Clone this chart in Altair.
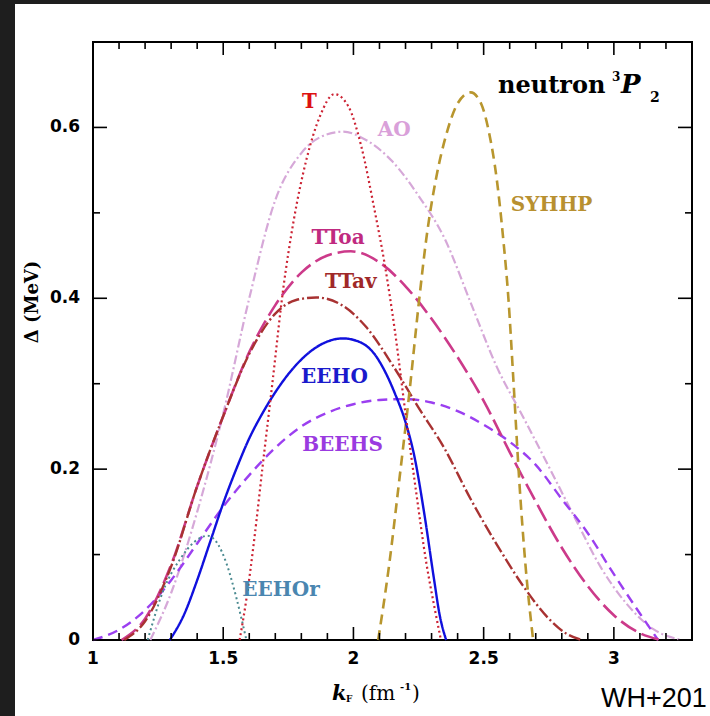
import altair as alt
import pandas as pd

# ---------------- data ----------------
T_x = [1.563, 1.59, 1.62, 1.65, 1.69, 1.73, 1.77, 1.82, 1.87, 1.927, 1.98, 2.03, 2.08, 2.12, 2.16, 2.20, 2.24, 2.28, 2.31, 2.336]
T_y = [0.0, 0.05, 0.12, 0.2, 0.304, 0.41, 0.49, 0.563, 0.612, 0.639, 0.625, 0.578, 0.505, 0.44, 0.36, 0.265, 0.175, 0.09, 0.04, 0.0]

AO_x = [1.22, 1.30, 1.40, 1.50, 1.60, 1.70, 1.80, 1.90, 1.96, 2.05, 2.15, 2.25, 2.35, 2.45, 2.55, 2.65, 2.75, 2.85, 2.95, 3.05, 3.15, 3.26]
AO_y = [0.0, 0.055, 0.15, 0.265, 0.40, 0.515, 0.57, 0.592, 0.595, 0.585, 0.56, 0.52, 0.47, 0.395, 0.32, 0.262, 0.203, 0.143, 0.085, 0.042, 0.013, 0.0]

SYHHP_x = [2.095, 2.138, 2.176, 2.215, 2.253, 2.28, 2.317, 2.355, 2.40, 2.45, 2.49, 2.52, 2.55, 2.575, 2.595, 2.615, 2.636, 2.66, 2.69]
SYHHP_y = [0.0, 0.09, 0.187, 0.29, 0.40, 0.47, 0.54, 0.59, 0.628, 0.641, 0.628, 0.595, 0.54, 0.47, 0.40, 0.30, 0.19, 0.09, 0.0]

TToa_x = [1.11, 1.20, 1.30, 1.40, 1.50, 1.60, 1.70, 1.80, 1.90, 1.99, 2.10, 2.20, 2.30, 2.40, 2.50, 2.60, 2.70, 2.80, 2.90, 3.00, 3.10, 3.18]
TToa_y = [0.0, 0.025, 0.088, 0.18, 0.262, 0.337, 0.392, 0.43, 0.45, 0.455, 0.442, 0.414, 0.376, 0.331, 0.28, 0.22, 0.162, 0.108, 0.063, 0.029, 0.008, 0.0]

TTav_x = [1.12, 1.20, 1.30, 1.40, 1.50, 1.60, 1.70, 1.78, 1.857, 1.95, 2.05, 2.15, 2.25, 2.35, 2.45, 2.55, 2.65, 2.75, 2.82, 2.877]
TTav_y = [0.0, 0.022, 0.086, 0.18, 0.262, 0.335, 0.382, 0.398, 0.401, 0.393, 0.366, 0.322, 0.272, 0.224, 0.165, 0.112, 0.064, 0.025, 0.007, 0.0]

EEHO_x = [1.295, 1.35, 1.40, 1.45, 1.50, 1.55, 1.60, 1.65, 1.70, 1.78, 1.87, 1.96, 2.03, 2.08, 2.12, 2.16, 2.20, 2.234, 2.272, 2.31, 2.33, 2.356]
EEHO_y = [0.0, 0.03, 0.07, 0.115, 0.16, 0.2, 0.236, 0.265, 0.29, 0.322, 0.345, 0.353, 0.348, 0.335, 0.315, 0.288, 0.255, 0.215, 0.148, 0.07, 0.031, 0.0]

BEEHS_x = [1.0, 1.1, 1.2, 1.3, 1.4, 1.5, 1.6, 1.7, 1.8, 1.9, 2.0, 2.1, 2.2, 2.3, 2.4, 2.5, 2.6, 2.7, 2.8, 2.9, 3.0, 3.1, 3.17]
BEEHS_y = [0.0, 0.012, 0.035, 0.07, 0.113, 0.156, 0.193, 0.225, 0.25, 0.266, 0.276, 0.281, 0.282, 0.278, 0.268, 0.252, 0.232, 0.205, 0.165, 0.125, 0.077, 0.031, 0.0]

EEHOr_x = [1.21, 1.27, 1.333, 1.39, 1.44, 1.48, 1.512, 1.55, 1.589]
EEHOr_y = [0.0, 0.058, 0.094, 0.115, 0.122, 0.112, 0.09, 0.05, 0.0]

label_names = ["T", "AO", "SYHHP", "TToa", "TTav", "EEHO", "BEEHS", "EEHOr"]
label_x = [1.831, 2.157, 2.761, 1.941, 1.990, 1.927, 1.958, 1.722]
label_y = [0.630, 0.597, 0.509, 0.470, 0.419, 0.308, 0.228, 0.058]

x_major = [1, 1.5, 2, 2.5, 3]
x_tick_labels = ["1", "1.5", "2", "2.5", "3"]
x_minor = [1.1, 1.2, 1.3, 1.4, 1.6, 1.7, 1.8, 1.9, 2.1, 2.2, 2.3, 2.4, 2.6, 2.7, 2.8, 2.9, 3.1, 3.2]
y_major = [0, 0.2, 0.4, 0.6]
y_tick_labels = ["0", "0.2", "0.4", "0.6"]
y_minor = [0.1, 0.3, 0.5]

# ---------------- styling ----------------
W, H = 599, 598
xs = alt.Scale(domain=[1, 3.3], nice=False, zero=False)
ys = alt.Scale(domain=[0, 0.7], nice=False, zero=False)

styles = {
    "T": ("#cc2233", [2, 3], 2.2),
    "AO": ("#d6a8d8", [9, 3, 2, 3], 2.2),
    "SYHHP": ("#b8962e", [10, 6], 2.6),
    "TToa": ("#cc3a8a", [18, 6], 2.6),
    "TTav": ("#a83232", [12, 3, 2, 3], 2.4),
    "EEHO": ("#1010dd", [1, 0], 2.4),
    "BEEHS": ("#9b3ff0", [10, 6], 2.4),
    "EEHOr": ("#4a8a90", [2, 3], 2.0),
}
label_colors = {
    "T": "#dd1111", "AO": "#d9a0d9", "SYHHP": "#b89030", "TToa": "#c02a80",
    "TTav": "#a02828", "EEHO": "#1a1acc", "BEEHS": "#9a3ae0", "EEHOr": "#4a86b0",
}
series = {
    "T": (T_x, T_y), "AO": (AO_x, AO_y), "SYHHP": (SYHHP_x, SYHHP_y),
    "TToa": (TToa_x, TToa_y), "TTav": (TTav_x, TTav_y), "EEHO": (EEHO_x, EEHO_y),
    "BEEHS": (BEEHS_x, BEEHS_y), "EEHOr": (EEHOr_x, EEHOr_y),
}

one = pd.DataFrame({"a": [0]})
layers = []

# dark bands of the screenshot edge
layers.append(alt.Chart(one).mark_rect(color="#1e1e1e").encode(
    x=alt.value(-93), x2=alt.value(-78), y=alt.value(-42), y2=alt.value(H + 76)))
layers.append(alt.Chart(one).mark_rect(color="#1e1e1e").encode(
    x=alt.value(-93), x2=alt.value(W + 18), y=alt.value(-42), y2=alt.value(-38)))

# curves
for name in ["AO", "BEEHS", "TToa", "TTav", "SYHHP", "EEHO", "EEHOr", "T"]:
    xv, yv = series[name]
    col, dash, sw = styles[name]
    df = pd.DataFrame({"x": xv, "y": yv})
    layers.append(alt.Chart(df).mark_line(
        color=col, strokeDash=dash, strokeWidth=sw, interpolate="monotone").encode(
        x=alt.X("x:Q", scale=xs, axis=None), y=alt.Y("y:Q", scale=ys, axis=None)))

# curve labels
lab_df = pd.DataFrame({"name": label_names, "x": label_x, "y": label_y,
                       "c": [label_colors[n] for n in label_names]})
layers.append(alt.Chart(lab_df).mark_text(
    font="DejaVu Serif", fontWeight="bold", fontSize=20, align="center", baseline="middle").encode(
    x=alt.X("x:Q", scale=xs, axis=None), y=alt.Y("y:Q", scale=ys, axis=None),
    text="name:N", color=alt.Color("c:N", scale=None)))

# inward ticks on all four sides
def xticks(vals, length):
    d = pd.DataFrame({"x": vals})
    bot = alt.Chart(d).mark_rule(color="black", strokeWidth=1.6).encode(
        x=alt.X("x:Q", scale=xs, axis=None), y=alt.value(H), y2=alt.value(H - length))
    top = alt.Chart(d).mark_rule(color="black", strokeWidth=1.6).encode(
        x=alt.X("x:Q", scale=xs, axis=None), y=alt.value(0), y2=alt.value(length))
    return [bot, top]

def yticks(vals, length):
    d = pd.DataFrame({"y": vals})
    left = alt.Chart(d).mark_rule(color="black", strokeWidth=1.6).encode(
        y=alt.Y("y:Q", scale=ys, axis=None), x=alt.value(0), x2=alt.value(length))
    right = alt.Chart(d).mark_rule(color="black", strokeWidth=1.6).encode(
        y=alt.Y("y:Q", scale=ys, axis=None), x=alt.value(W), x2=alt.value(W - length))
    return [left, right]

layers += xticks(x_major, 13) + xticks(x_minor, 7) + yticks(y_major, 14) + yticks(y_minor, 7)

# tick labels
xl = pd.DataFrame({"x": x_major, "t": x_tick_labels})
layers.append(alt.Chart(xl).mark_text(
    font="DejaVu Sans", fontWeight="bold", fontSize=17, color="black",
    align="center", baseline="top").encode(
    x=alt.X("x:Q", scale=xs, axis=None), y=alt.value(H + 11), text="t:N"))
yl = pd.DataFrame({"y": y_major, "t": y_tick_labels})
layers.append(alt.Chart(yl).mark_text(
    font="DejaVu Sans", fontWeight="bold", fontSize=17, color="black",
    align="right", baseline="middle").encode(
    y=alt.Y("y:Q", scale=ys, axis=None), x=alt.value(-13), text="t:N"))

# texts: axis titles, panel title, credit
def txt(s, x, y, size, font="DejaVu Serif", weight="bold", style="normal", color="black",
        align="left", baseline="alphabetic", angle=0):
    return alt.Chart(one).mark_text(
        font=font, fontSize=size, fontWeight=weight, fontStyle=style, color=color,
        align=align, baseline=baseline, angle=angle).encode(
        x=alt.value(x), y=alt.value(y), text=alt.value(s))

layers += [
    txt("Δ (MeV)", -60, 260, 18, align="center", baseline="middle", angle=270),
    txt("neutron", 405, 51, 24),
    txt("3", 519, 39, 12),
    txt("P", 528, 51, 26, style="italic"),
    txt("2", 557, 60, 14),
    txt("k", 239, 658, 21, style="italic"),
    txt("F", 253, 660, 9),
    txt("(fm", 268, 658, 20, weight="normal"),
    txt("-1", 307, 648, 10),
    txt(")", 319, 658, 20, weight="normal"),
    txt("WH+201", 508, 665, 27, font="Liberation Sans", weight="normal"),
]

chart = alt.layer(*layers).properties(
    width=W, height=H,
    autosize=alt.AutoSizeParams(type="none"),
    padding={"left": 93, "top": 42, "right": 18, "bottom": 76},
    background="white",
).configure_view(stroke="black", strokeWidth=2)

chart.save("out.html", embed_options={"renderer": "svg", "actions": False})
